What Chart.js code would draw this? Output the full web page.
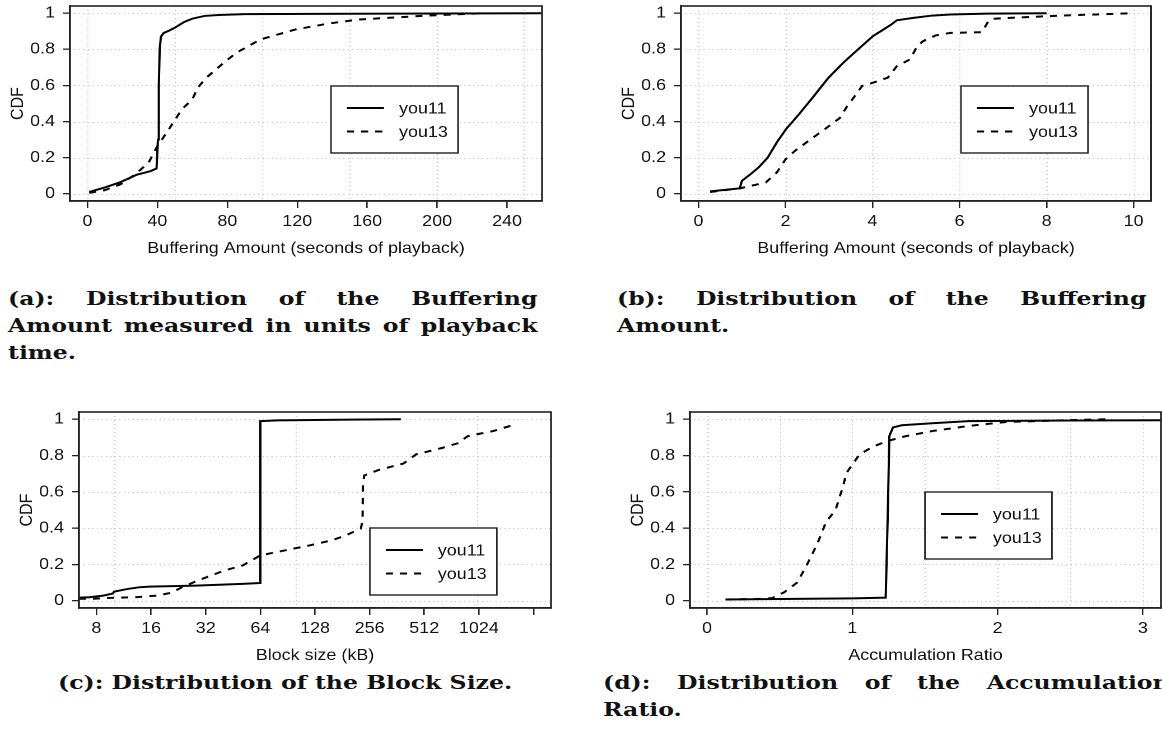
<!DOCTYPE html>
<html>
<head>
<meta charset="utf-8">
<script src="https://cdn.jsdelivr.net/npm/chart.js@4.4.1/dist/chart.umd.min.js"></script>
<style>
html,body{margin:0;padding:0;background:#fff;}
body{width:1162px;height:749px;overflow:hidden;position:relative;}
canvas{position:absolute;transform-origin:0 0;}
.cap{position:absolute;font-family:"DejaVu Serif",serif;font-weight:bold;font-size:19px;line-height:27px;color:#111;text-align:justify;transform:scaleX(1.24);transform-origin:0 0;}
</style>
</head>
<body>
<canvas id="ca"></canvas>
<canvas id="cb"></canvas>
<canvas id="cc"></canvas>
<canvas id="cd"></canvas>
<div class="cap" style="left:8px;top:285px;width:427px;">(a): Distribution of the Buffering Amount measured in units of playback time.</div>
<div class="cap" style="left:617px;top:285px;width:427px;">(b): Distribution of the Buffering Amount.</div>
<div class="cap" style="left:58px;top:669px;white-space:nowrap;">(c): Distribution of the Block Size.</div>
<div class="cap" style="left:603px;top:669px;width:457px;">(d): Distribution of the Accumulation Ratio.</div>
<script>
// ---------- data ----------
const seriesNames = ['you11', 'you13'];
const yTicks = [0, 0.2, 0.4, 0.6, 0.8, 1];
const yTickLabels = ['0', '0.2', '0.4', '0.6', '0.8', '1'];
const yTitle = 'CDF';

// (a) Buffering amount, seconds of playback
const aXTicks = [0, 40, 80, 120, 160, 200, 240];
const aXGrid = [0, 50, 100, 150, 200, 250];
const aYou11X = [1, 10, 19, 28, 36, 39.5, 40.3, 40.8, 41.3, 42, 43.5, 47, 50, 55, 60, 67, 75, 90, 150, 262];
const aYou11Y = [0.01, 0.035, 0.065, 0.105, 0.125, 0.14, 0.3, 0.6, 0.8, 0.87, 0.89, 0.905, 0.92, 0.95, 0.97, 0.985, 0.99, 0.995, 0.997, 1];
const aYou13X = [1, 10, 19, 27, 35, 39.5, 46.5, 54, 60, 63, 68, 78, 85, 99, 119, 138, 155, 195, 226];
const aYou13Y = [0.005, 0.02, 0.053, 0.105, 0.173, 0.256, 0.357, 0.468, 0.523, 0.587, 0.643, 0.726, 0.78, 0.855, 0.91, 0.943, 0.965, 0.987, 1.0];

// (b) Buffering amount
const bXTicks = [0, 2, 4, 6, 8, 10];
const bXGrid = [0, 2, 4, 6, 8, 10];
const bYou11X = [0.27, 0.95, 1.0, 1.2, 1.38, 1.59, 1.8, 2.01, 2.31, 2.65, 2.99, 3.33, 3.67, 4.01, 4.43, 4.56, 4.94, 5.37, 5.79, 6.64, 8.0];
const bYou11Y = [0.013, 0.03, 0.072, 0.109, 0.145, 0.2, 0.284, 0.357, 0.44, 0.54, 0.643, 0.726, 0.8, 0.873, 0.937, 0.961, 0.974, 0.987, 0.993, 0.998, 1.0];
const bYou13X = [0.27, 0.95, 1.55, 1.8, 2.0, 2.23, 2.57, 2.9, 3.25, 3.42, 3.59, 3.76, 4.01, 4.35, 4.56, 4.86, 5.03, 5.16, 5.45, 5.79, 6.52, 6.64, 6.73, 7.49, 8.34, 10];
const bYou13Y = [0.01, 0.03, 0.063, 0.118, 0.19, 0.24, 0.3, 0.357, 0.42, 0.486, 0.54, 0.597, 0.615, 0.643, 0.707, 0.744, 0.818, 0.845, 0.877, 0.891, 0.895, 0.947, 0.969, 0.978, 0.987, 1.0];

// (c) Block size (kB), log axis
const cXTicks = [8, 16, 32, 64, 128, 256, 512, 1024, 2048];
const cXTickLabels = ['8', '16', '32', '64', '128', '256', '512', '1024', ''];
const cXGrid = [10, 100, 1000];
const cYou11X = [6.4, 7.3, 8.7, 9.85, 10, 11.9, 13.7, 15.7, 28.2, 50.9, 63.9, 64, 80, 200, 380];
const cYou11Y = [0.017, 0.019, 0.028, 0.04, 0.05, 0.065, 0.074, 0.078, 0.083, 0.093, 0.098, 0.99, 0.994, 0.998, 1.0];
const cYou13X = [6.4, 7.6, 9.1, 13.4, 17.1, 20.5, 24.1, 28.3, 32.4, 40.7, 51, 64, 88, 121, 159, 190, 229, 234, 235, 239, 286, 393, 461, 648, 778, 890, 1227, 1580];
const cYou13Y = [0.011, 0.011, 0.015, 0.02, 0.028, 0.043, 0.078, 0.107, 0.13, 0.167, 0.194, 0.25, 0.278, 0.306, 0.333, 0.361, 0.398, 0.44, 0.63, 0.69, 0.72, 0.756, 0.806, 0.843, 0.867, 0.907, 0.935, 0.968];

// (d) Accumulation ratio
const dXTicks = [0, 1, 2, 3];
const dXGrid = [0, 0.5, 1, 1.5, 2, 2.5, 3];
const dYou11X = [0.128, 0.6, 1.0, 1.23, 1.245, 1.255, 1.28, 1.34, 1.55, 1.8, 2.5, 3.3];
const dYou11Y = [0.007, 0.01, 0.013, 0.017, 0.5, 0.907, 0.955, 0.967, 0.978, 0.99, 0.993, 0.995];
const dYou13X = [0.128, 0.4, 0.45, 0.53, 0.62, 0.68, 0.76, 0.82, 0.885, 0.936, 0.96, 1.0, 1.05, 1.14, 1.24, 1.37, 1.55, 1.8, 2.06, 2.44, 2.75];
const dYou13Y = [0.007, 0.011, 0.015, 0.046, 0.1, 0.185, 0.315, 0.435, 0.5, 0.63, 0.704, 0.75, 0.806, 0.848, 0.88, 0.907, 0.935, 0.963, 0.985, 0.994, 1.0];

// ---------- drawing ----------
// The original figure is slightly stretched horizontally; the canvases are drawn
// narrower and widened with CSS by SX so that the Helvetica-like text matches.
const SX = 1.12;
const FONT = {family: '"Liberation Sans", Arial, sans-serif', size: 16};
const INK = '#111';
const YAXIS_W = 70 / SX, XAXIS_H = 61;

const panelPlugin = {
  id: 'panel',
  beforeDatasetsDraw(chart, args, o) {
    const {ctx, chartArea: a, scales: {x, y}} = chart;
    ctx.save();
    ctx.strokeStyle = '#c4c4c4';
    ctx.lineWidth = 1;
    ctx.setLineDash([1, 3]);
    o.xGrid.forEach(v => {
      const px = Math.round(x.getPixelForValue(v)) + 0.5;
      if (px < a.left || px > a.right) return;
      ctx.beginPath(); ctx.moveTo(px, a.top); ctx.lineTo(px, a.bottom); ctx.stroke();
    });
    yTicks.forEach(v => {
      const py = Math.round(y.getPixelForValue(v)) + 0.5;
      ctx.beginPath(); ctx.moveTo(a.left, py); ctx.lineTo(a.right, py); ctx.stroke();
    });
    ctx.restore();
  },
  afterDatasetsDraw(chart, args, o) {
    const {ctx, chartArea: a} = chart;
    ctx.save();
    ctx.strokeStyle = '#222';
    ctx.lineWidth = 1.6;
    ctx.strokeRect(a.left, a.top, a.right - a.left, a.bottom - a.top);
    // legend
    const lx = o.legend.x, ly = o.legend.y, lw = 127 / SX, lh = 67;
    ctx.fillStyle = '#fff';
    ctx.fillRect(lx, ly, lw, lh);
    ctx.lineWidth = 1.4;
    ctx.strokeRect(lx, ly, lw, lh);
    ctx.font = '16px "Liberation Sans", Arial, sans-serif';
    ctx.textBaseline = 'middle';
    ctx.textAlign = 'left';
    chart.data.datasets.forEach((ds, i) => {
      const ry = ly + 22 + i * 23.5;
      ctx.strokeStyle = '#000';
      ctx.lineWidth = 2;
      ctx.setLineDash(ds.borderDash || []);
      ctx.beginPath(); ctx.moveTo(lx + 16 / SX, ry); ctx.lineTo(lx + 53 / SX, ry); ctx.stroke();
      ctx.setLineDash([]);
      ctx.fillStyle = INK;
      ctx.fillText(ds.label, lx + 68 / SX, ry + 1);
    });
    ctx.restore();
  }
};

function makePanel(id, p) {
  const cv = document.getElementById(id);
  const w = Math.round(p.width / SX);
  cv.style.left = p.left + 'px';
  cv.style.top = p.top + 'px';
  cv.style.transform = 'scaleX(' + (p.width / w) + ')';
  cv.width = w; cv.height = p.height;
  cv.style.width = w + 'px'; cv.style.height = p.height + 'px';
  const datasets = p.series.map((s, i) => ({
    label: seriesNames[i],
    data: s[0].map((xv, j) => ({x: xv, y: s[1][j]})),
    showLine: true,
    borderColor: '#000',
    borderWidth: 2,
    borderDash: i === 1 ? [6.3, 6.3] : [],
    pointRadius: 0,
    tension: 0,
    fill: false
  }));
  new Chart(cv, {
    type: 'scatter',
    data: {datasets},
    options: {
      responsive: false,
      animation: false,
      events: [],
      devicePixelRatio: 2,
      layout: {padding: {left: 0, top: p.padTop, right: p.padRight / SX, bottom: 0}},
      plugins: {
        legend: {display: false},
        tooltip: {enabled: false},
        panel: {xGrid: p.xGrid, legend: {x: (p.legend[0] - p.left) / SX, y: p.legend[1] - p.top}}
      },
      scales: {
        x: {
          type: p.log ? 'logarithmic' : 'linear',
          min: p.xMin, max: p.xMax,
          bounds: 'data',
          afterBuildTicks: sc => { sc.ticks = p.xTicks.map(v => ({value: v})); },
          afterFit: sc => { sc.height = XAXIS_H; sc.paddingLeft = 0; sc.paddingRight = 0; },
          grid: {drawOnChartArea: false, drawTicks: true, tickLength: 7, color: '#222', lineWidth: 1.3},
          border: {display: true, color: '#222', width: 1.6},
          ticks: {font: FONT, color: INK, padding: 4, maxRotation: 0, autoSkip: false,
                  callback: (v, i) => p.xTickLabels[i]},
          title: {display: true, text: p.xTitle, font: FONT, color: INK, padding: {top: 0, bottom: 4}}
        },
        y: {
          min: -0.04, max: 1.04,
          bounds: 'data',
          afterBuildTicks: sc => { sc.ticks = yTicks.map(v => ({value: v})); },
          afterFit: sc => { sc.width = YAXIS_W; sc.paddingTop = 0; sc.paddingBottom = 0; },
          grid: {drawOnChartArea: false, drawTicks: true, tickLength: 7 / SX, color: '#222', lineWidth: 1.3},
          border: {display: true, color: '#222', width: 1.6},
          ticks: {font: FONT, color: INK, padding: 8 / SX, autoSkip: false,
                  callback: (v, i) => yTickLabels[i]},
          title: {display: true, text: yTitle, font: FONT, color: INK, padding: {top: 18 / SX - 9.6, bottom: 0}}
        }
      }
    },
    plugins: [panelPlugin]
  });
}

makePanel('ca', {
  left: 0, top: 0, width: 560, height: 262, padTop: 6, padRight: 18,
  xMin: -10, xMax: 260, xTicks: aXTicks, xTickLabels: aXTicks.map(String), xGrid: aXGrid,
  xTitle: 'Buffering Amount (seconds of playback)',
  series: [[aYou11X, aYou11Y], [aYou13X, aYou13Y]], legend: [331, 86]
});
makePanel('cb', {
  left: 611, top: 0, width: 551, height: 262, padTop: 6, padRight: 11,
  xMin: -0.4, xMax: 10.4, xTicks: bXTicks, xTickLabels: bXTicks.map(String), xGrid: bXGrid,
  xTitle: 'Buffering Amount (seconds of playback)',
  series: [[bYou11X, bYou11Y], [bYou13X, bYou13Y]], legend: [961, 86]
});
makePanel('cc', {
  left: 9, top: 400, width: 571, height: 269, padTop: 12, padRight: 29, log: true,
  xMin: 6.41, xMax: 2557, xTicks: cXTicks, xTickLabels: cXTickLabels, xGrid: cXGrid,
  xTitle: 'Block size (kB)',
  series: [[cYou11X, cYou11Y], [cYou13X, cYou13Y]], legend: [370, 528]
});
makePanel('cd', {
  left: 620, top: 400, width: 542, height: 269, padTop: 12, padRight: 1,
  xMin: -0.117, xMax: 3.125, xTicks: dXTicks, xTickLabels: dXTicks.map(String), xGrid: dXGrid,
  xTitle: 'Accumulation Ratio',
  series: [[dYou11X, dYou11Y], [dYou13X, dYou13Y]], legend: [925, 492]
});
</script>
</body>
</html>
